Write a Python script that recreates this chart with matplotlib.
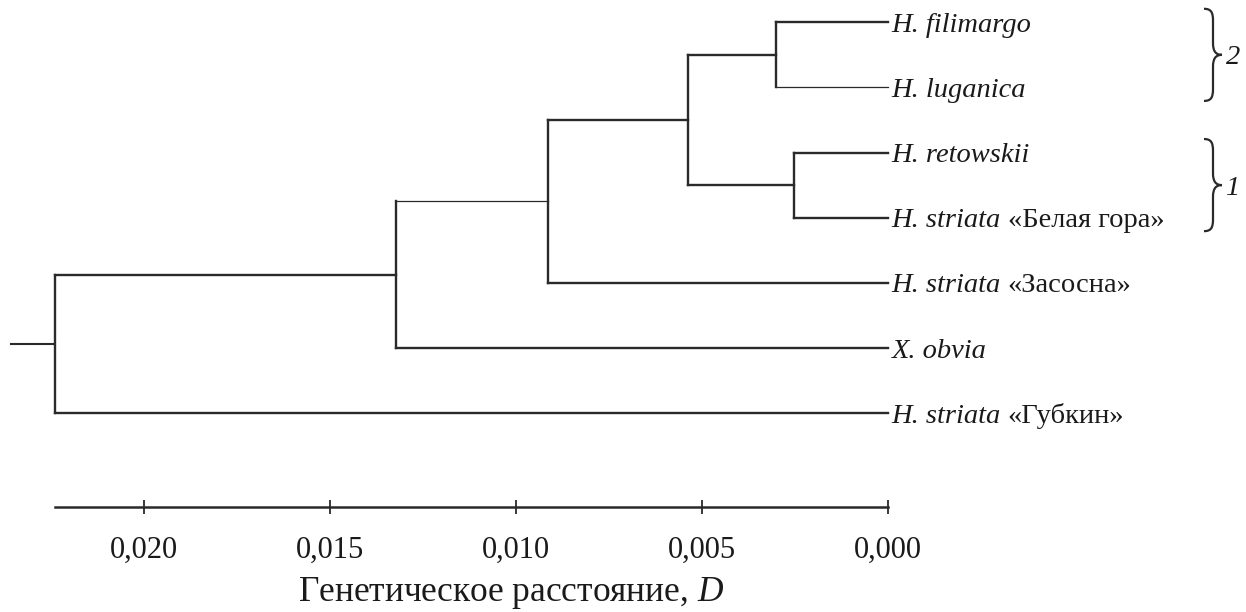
import matplotlib
matplotlib.use("Agg")
import matplotlib.pyplot as plt
from matplotlib.path import Path
from matplotlib.patches import PathPatch
from matplotlib.transforms import IdentityTransform

plt.rcParams['font.family'] = ['Liberation Serif', 'DejaVu Serif']
plt.rcParams['mathtext.fontset'] = 'custom'
plt.rcParams['mathtext.it'] = 'Liberation Serif:italic'
plt.rcParams['mathtext.rm'] = 'Liberation Serif'

# leaves, top to bottom
species = ["H. filimargo", "H. luganica", "H. retowskii", "H. striata",
           "H. striata", "X. obvia", "H. striata"]
locality = ["", "", "", "«Белая гора»", "«Засосна»", "", "«Губкин»"]

# joins: (child a, child b, distance D); ids 0-6 are leaves, 7.. are the joins in order
merges = [(0, 1, 0.00302), (2, 3, 0.00252), (7, 8, 0.00538),
          (9, 4, 0.00914), (10, 5, 0.01322), (11, 6, 0.02239)]
root_stub = 0.02358

ticks = [0.020, 0.015, 0.010, 0.005, 0.000]
tick_labels = ["0,020", "0,015", "0,010", "0,005", "0,000"]

# bracketed groups: first leaf, last leaf, label
groups = [(0, 1, "2"), (2, 3, "1")]
thin = [1, 10]   # branches drawn with thinner line

W, H = 1246, 612
col = '#2a2a2a'
txt = '#1a1a1a'

fig = plt.figure(figsize=(W / 100, H / 100), dpi=100)
ax = fig.add_axes([55 / W, 1 - 413 / H, 833 / W, 390.7 / H])
ax.set_xlim(merges[-1][2], 0)
ax.set_ylim(len(species) - 1, 0)

# tree
pos = {i: (0.0, float(i)) for i in range(len(species))}
for k, (a, b, d) in enumerate(merges):
    for c in (a, b):
        cx, cy = pos[c]
        ax.plot([cx, d], [cy, cy], color=col, lw=0.9 if c in thin else 1.7,
                clip_on=False, solid_capstyle='projecting')
    ax.plot([d, d], [pos[a][1], pos[b][1]], color=col, lw=1.7, clip_on=False,
            solid_capstyle='projecting')
    pos[len(species) + k] = (d, (pos[a][1] + pos[b][1]) / 2)
rx, ry = pos[len(species) + len(merges) - 1]
ax.plot([root_stub, rx], [ry, ry], color=col, lw=1.5, clip_on=False)

# leaf labels
for i, (sp, loc) in enumerate(zip(species, locality)):
    t = ax.annotate(sp, xy=(0, i), xytext=(2.5, -7), textcoords='offset points',
                    ha='left', va='baseline', style='italic', fontsize=20.5,
                    color=txt, annotation_clip=False)
    if loc:
        ax.annotate(loc, xy=(1, i), xycoords=(t, ax.transData), xytext=(5, -7),
                    textcoords='offset points', ha='left', va='baseline',
                    fontsize=20.5, color=txt, annotation_clip=False)

# axis
for s in ['top', 'right', 'left']:
    ax.spines[s].set_visible(False)
ax.spines['bottom'].set_position(('outward', 94 * 0.72))
ax.spines['bottom'].set_bounds(merges[-1][2], 0)
ax.spines['bottom'].set_linewidth(1.8)
ax.spines['bottom'].set_color(col)
ax.set_yticks([])
ax.set_xticks(ticks, tick_labels)
ax.tick_params(axis='x', direction='inout', length=9.5, width=1.3, color=col,
               pad=16, labelsize=22, labelcolor=txt)
ax.set_xlabel('Генетическое расстояние, $\\mathit{D}$', fontsize=25.5, color=txt)
ax.xaxis.set_label_coords(0.547, -0.461)
ax.xaxis.label.set_va('center')

# curly braces, drawn in pixel units
fig.canvas.draw()
pix = IdentityTransform()
x0, xs, xt, r = 1204, 1213, 1222, 12
for a, b, lab in groups:
    yt = ax.transData.transform((0, a))[1] + 13.5
    yb = ax.transData.transform((0, b))[1] - 13.5
    ym = (yt + yb) / 2
    verts = [(x0, yt), (x0 + 0.8 * (xs - x0), yt), (xs, yt - 0.3 * r), (xs, yt - r),
             (xs, ym + r),
             (xs, ym + 0.3 * r), (xs + 0.3 * (xt - xs), ym), (xt, ym),
             (xs + 0.3 * (xt - xs), ym), (xs, ym - 0.3 * r), (xs, ym - r),
             (xs, yb + r),
             (xs, yb + 0.3 * r), (x0 + 0.8 * (xs - x0), yb), (x0, yb)]
    codes = [Path.MOVETO, Path.CURVE4, Path.CURVE4, Path.CURVE4,
             Path.LINETO,
             Path.CURVE4, Path.CURVE4, Path.CURVE4,
             Path.CURVE4, Path.CURVE4, Path.CURVE4,
             Path.LINETO,
             Path.CURVE4, Path.CURVE4, Path.CURVE4]
    fig.patches.append(PathPatch(Path(verts, codes), transform=pix, fill=False,
                                 edgecolor=col, lw=1.6, figure=fig))
    fig.text(xt + 4, ym - 3, lab, transform=pix, ha='left', va='center',
             style='italic', fontsize=20.5, color=txt)

fig.savefig('out.png', dpi=100)
